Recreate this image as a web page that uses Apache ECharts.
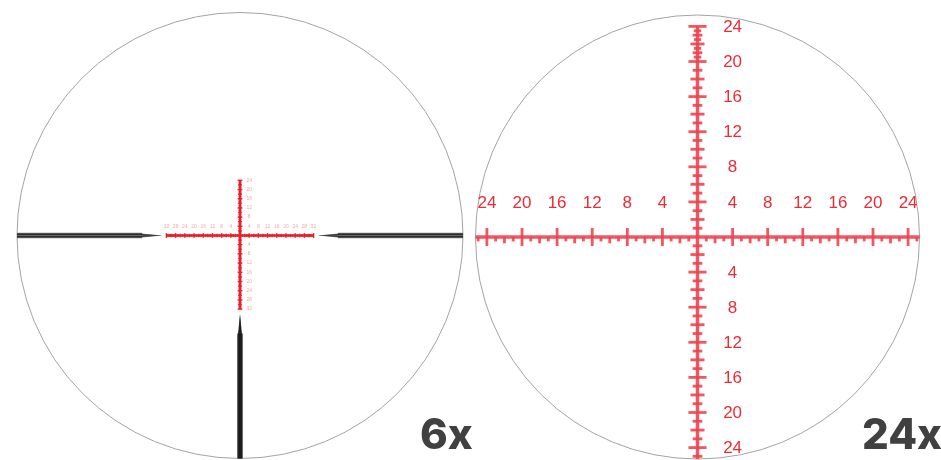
<!DOCTYPE html>
<html><head><meta charset="utf-8">
<style>html,body{margin:0;padding:0;background:#fff}#c{width:941px;height:460px}</style>
<script src="https://cdn.jsdelivr.net/npm/echarts@6/dist/echarts.min.js"></script>
</head><body><div id="c"></div>
<script>
// Reticle values, in reticle units from the centre
const wideLabels = [4, 8, 12, 16, 20, 24];
const upLabels = [8, 12, 16, 20, 24];
const wideLabelsFar = [4, 8, 12, 16, 20, 24, 28, 32];
const regularTicks = [1, 2, 3, 4, 5, 6, 7, 8, 9, 10, 11, 12, 13, 14, 15, 16, 17, 18, 19, 20];
const upperDenseTicks = [20.5, 21, 21.5, 22, 22.5, 23, 23.5, 24];
const lowerTicks24 = [21, 22, 23, 24, 25];
const farRegularTicks = [21, 22, 23, 24, 25, 26, 27, 28];
const farDenseTicks = [28.5, 29, 29.5, 30, 30.5, 31, 31.5, 32];
const sideTicks24 = [21, 22, 23, 24, 25];
const circleRadiusLeft = [97];
const circleRadiusRight = [25.3];
const postLeft = [[-97, 1.25], [-42.6, 1.25], [-42.6, 0.9], [-33.8, 0], [-42.6, -0.9], [-42.6, -1.25], [-97, -1.25]];
const postRight = [[97, 1.25], [42.6, 1.25], [42.6, 0.9], [33.9, 0], [42.6, -0.9], [42.6, -1.25], [97, -1.25]];
const postBottom = [[-1.2, -97], [-1.2, -42.6], [-0.85, -42.6], [0, -34.3], [0.85, -42.6], [1.2, -42.6], [1.2, -97]];

function halfWidth(v) {
  if (v % 4 === 0) return 1.03;
  if (v % 2 === 0) return 0.8;
  if (v > 20 && v % 1 !== 0 && v < 24) return 0.42;
  if (v > 28 && v % 1 !== 0) return 0.42;
  return 0.55;
}
function vTicks(list, sign) { return list.map(v => [-halfWidth(v), sign * v, halfWidth(v), sign * v]); }
function hTicks(list, sign) {
  return list.map(v => v % 4 === 0
    ? [sign * v, -1.03, sign * v, 1.03]
    : [sign * v, -(v % 2 === 0 ? 0.72 : 0.5), sign * v, 0]);
}
function segSeries(grid, segs, width, color, opacity) {
  return {
    type: 'custom', xAxisIndex: grid, yAxisIndex: grid, silent: true, clip: false, data: segs,
    encode: { x: [0, 2], y: [1, 3] },
    renderItem(p, api) {
      const a = api.coord([api.value(0), api.value(1)]), b = api.coord([api.value(2), api.value(3)]);
      return { type: 'line', shape: { x1: a[0], y1: a[1], x2: b[0], y2: b[1] },
        style: { stroke: color, lineWidth: width, opacity: opacity, fill: null } };
    }
  };
}
function circleSeries(grid, radius) {
  return {
    type: 'custom', xAxisIndex: grid, yAxisIndex: grid, silent: true, clip: false,
    data: radius.map(r => [0, 0, r]), encode: { x: 0, y: 1 },
    renderItem(p, api) {
      const c = api.coord([api.value(0), api.value(1)]);
      return { type: 'circle', shape: { cx: c[0], cy: c[1], r: api.size([api.value(2), 0])[0] },
        style: { fill: null, stroke: '#a4a4a4', lineWidth: 1 } };
    }
  };
}
function polySeries(points, color, k) {
  return {
    type: 'custom', xAxisIndex: 0, yAxisIndex: 0, silent: true, clip: false,
    data: [points.flat()],
    encode: { x: 0, y: 1 },
    renderItem(p, api) {
      const pts = points.map(q => api.coord([q[0] * (Math.abs(q[0]) < 2 ? k : 1), q[1] * (Math.abs(q[1]) < 2 ? k : 1)]));
      return { type: 'polygon', shape: { points: pts }, style: { fill: color } };
    }
  };
}
function textSeries(grid, rows, size, color, opacity, dy) {
  return {
    type: 'custom', xAxisIndex: grid, yAxisIndex: grid, silent: true, clip: false,
    data: rows, encode: { x: 0, y: 1 },
    renderItem(p, api) {
      const c = api.coord([api.value(0), api.value(1)]);
      return { type: 'text', x: c[0], y: c[1] + dy, style: { text: String(api.value(2)), fill: color, opacity: opacity,
        font: size + 'px "Liberation Sans", Arial, sans-serif', textAlign: 'center', textVerticalAlign: 'middle' } };
    }
  };
}

// 24x reticle
const rMax = circleRadiusRight[0];
const rLines = [[-rMax, 0, rMax, 0], [0, 24, 0, -rMax]];
const rTicks = [
  ...vTicks(regularTicks, 1), ...vTicks(upperDenseTicks, 1),
  ...vTicks(regularTicks, -1), ...vTicks(lowerTicks24, -1),
  ...hTicks(regularTicks, -1), ...hTicks(sideTicks24, -1),
  ...hTicks(regularTicks, 1), ...hTicks(sideTicks24, 1)
];
const rLabels = [
  ...wideLabels.map(v => [-v, 4, v]), ...wideLabels.map(v => [v, 4, v]),
  ...upLabels.map(v => [4, v, v]), ...wideLabels.map(v => [4, -v, v])
];

// 6x reticle
const lLines = [[-32, 0, 32, 0], [0, 24, 0, -32]];
const lTicks = [
  ...vTicks(regularTicks, 1), ...vTicks(upperDenseTicks, 1),
  ...vTicks(regularTicks, -1), ...vTicks(farRegularTicks, -1), ...vTicks(farDenseTicks, -1),
  ...hTicks(regularTicks, -1), ...hTicks(farRegularTicks, -1), ...hTicks(farDenseTicks, -1),
  ...hTicks(regularTicks, 1), ...hTicks(farRegularTicks, 1), ...hTicks(farDenseTicks, 1)
].map(s => s.slice());
// at this size the small ticks show on both sides of the bar
lTicks.forEach(s => { if (s[3] === 0 && s[1] < 0) { s[3] = -s[1]; } });
const lLabels = [
  ...wideLabelsFar.map(v => [-v, 4, v]), ...wideLabelsFar.map(v => [v, 4, v]),
  ...upLabels.map(v => [4, v, v]), ...wideLabelsFar.map(v => [4, -v, v])
];

const axis = (m, g) => ({ type: 'value', gridIndex: g, min: -m, max: m, show: false });
const chart = echarts.init(document.getElementById('c'), null, { renderer: 'canvas' });
const red = '#f04450';
chart.setOption({
  animation: false,
  backgroundColor: '#fff',
  title: [
    { text: '6x', left: 420, top: 415, padding: 0, textStyle: { fontFamily: 'Inter', fontWeight: 800, fontSize: 42, color: '#404040' } },
    { text: '24x', left: 862, top: 415, padding: 0, textStyle: { fontFamily: 'Inter', fontWeight: 800, fontSize: 42, color: '#404040' } }
  ],
  grid: [
    { left: 17, top: 12.5, width: 446, height: 446 },
    { left: 475.5, top: 15, width: 444, height: 444 }
  ],
  xAxis: [axis(circleRadiusLeft[0], 0), axis(rMax, 1)],
  yAxis: [axis(circleRadiusLeft[0], 0), axis(rMax, 1)],
  series: [
    circleSeries(0, circleRadiusLeft),
    circleSeries(1, circleRadiusRight),
    polySeries(postLeft, '#7a7a7a', 1), polySeries(postLeft, '#2b2b2b', 0.66), polySeries(postLeft, '#6a6a6a', 0.14),
    polySeries(postRight, '#7a7a7a', 1), polySeries(postRight, '#2b2b2b', 0.66), polySeries(postRight, '#6a6a6a', 0.14),
    polySeries(postBottom, '#3a3a3a', 1), polySeries(postBottom, '#1c1c1c', 0.66),
    segSeries(0, lLines, 2.6, '#ea1f2b', 1),
    segSeries(0, lTicks, 1.5, '#ea1f2b', 1),
    textSeries(0, lLabels, 5, '#ee5a60', 0.55, 0),
    segSeries(1, rLines, 3.4, red, 0.9),
    segSeries(1, rTicks, 2.8, red, 0.9),
    textSeries(1, rLabels, 17, '#ee2a35', 1, 1)
  ]
});
</script></body></html>
